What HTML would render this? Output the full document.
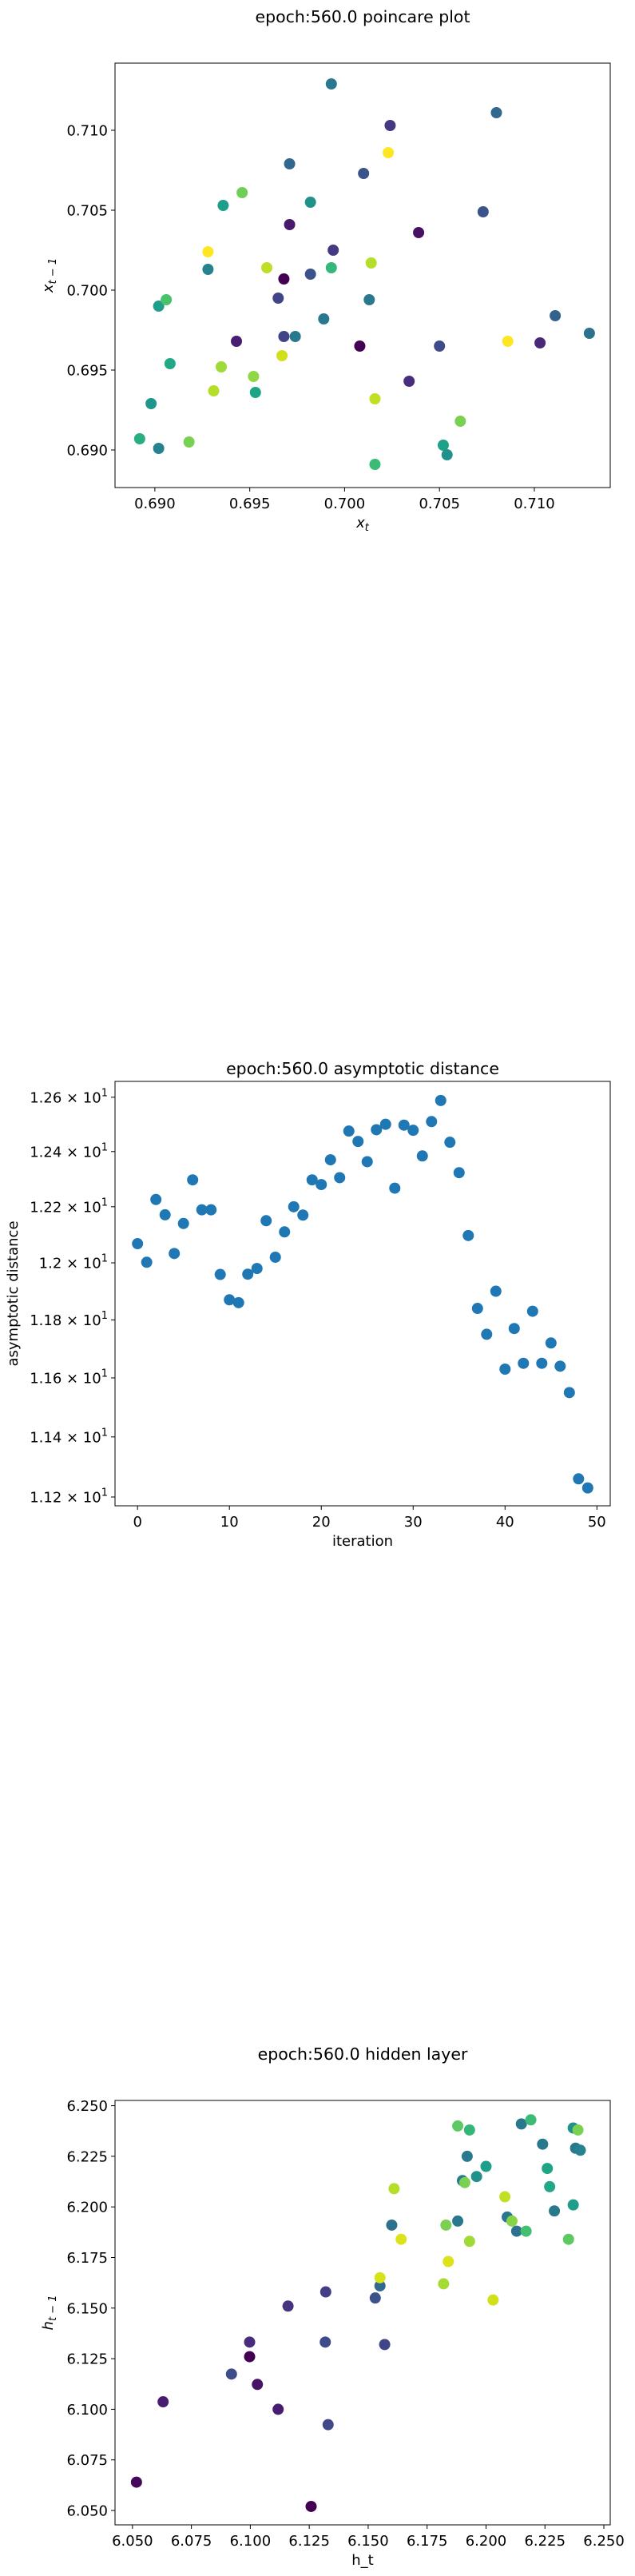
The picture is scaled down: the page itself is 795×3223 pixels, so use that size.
<!DOCTYPE html>
<html><head><meta charset="utf-8"><style>
html,body{margin:0;padding:0;background:#fff}
svg{display:block}
text{font-family:"DejaVu Sans","Liberation Sans",sans-serif;fill:#000}
</style></head><body>
<svg id="fig" xmlns="http://www.w3.org/2000/svg" width="795" height="3223" viewBox="0 0 795 3223"></svg>
<script>
// ---- Plot 1: poincare ----
const p1X = [0.6993,0.7080,0.7024,0.7023,0.6971,0.7010,0.6946,0.6936,0.6982,0.7073,0.6971,0.7039,0.6928,0.6994,0.6928,0.6959,0.6982,0.6993,0.7014,0.6968,0.6965,0.6902,0.6906,0.7013,0.6989,0.7111,0.7129,0.6968,0.6974,0.6967,0.7008,0.7050,0.7103,0.6943,0.7086,0.6908,0.6935,0.7034,0.6952,0.6931,0.6953,0.6898,0.7016,0.7061,0.6892,0.6918,0.6902,0.7052,0.7054,0.7016];
const p1Y = [0.7129,0.7111,0.7103,0.7086,0.7079,0.7073,0.7061,0.7053,0.7055,0.7049,0.7041,0.7036,0.7024,0.7025,0.7013,0.7014,0.7010,0.7014,0.7017,0.7007,0.6995,0.6990,0.6994,0.6994,0.6982,0.6984,0.6973,0.6971,0.6971,0.6959,0.6965,0.6965,0.6967,0.6968,0.6968,0.6954,0.6952,0.6943,0.6946,0.6937,0.6936,0.6929,0.6932,0.6918,0.6907,0.6905,0.6901,0.6903,0.6897,0.6891];
const p1C = ["#2a788e","#31688e","#443983","#fde725","#31688e","#3b528b","#6ece58","#1f9e89","#21918c","#3b528b","#481a6c","#471063","#fde725","#443983","#26828e","#bddf26","#3b528b","#35b779","#b5de2b","#440154","#414487","#1f9e89","#4ac16d","#2a788e","#2a788e","#33638d","#2c728e","#414487","#2a788e","#d0e11c","#440154","#3e4a89","#482878","#481f70","#fde725","#22a884","#a0da39","#472d7b","#8fd744","#b5de2b","#20a486","#1f968b","#c2df23","#7ad151","#29af7f","#7ad151","#26828e","#1fa187","#21918c","#3bbb75"];
const p1XTicks = [0.690,0.695,0.700,0.705,0.710];
const p1YTicks = [0.690,0.695,0.700,0.705,0.710];
// ---- Plot 2: asymptotic distance ----
const p2Y = [12.068,12.002,12.226,12.171,12.033,12.140,12.297,12.189,12.189,11.959,11.87,11.86,11.96,11.98,12.15,12.02,12.11,12.20,12.17,12.297,12.28,12.37,12.305,12.475,12.437,12.363,12.48,12.50,12.267,12.497,12.478,12.384,12.51,12.588,12.434,12.323,12.097,11.84,11.75,11.90,11.63,11.77,11.65,11.83,11.65,11.72,11.64,11.55,11.26,11.23];
const p2XTicks = [0,10,20,30,40,50];
const p2YTicks = [11.2,11.4,11.6,11.8,12.0,12.2,12.4,12.6];
const p2YTickLabels = ["1.12","1.14","1.16","1.18","1.2","1.22","1.24","1.26"];
// ---- Plot 3: hidden layer ----
const p3X = [6.0517,6.063,6.092,6.0997,6.0997,6.103,6.1118,6.1258,6.1318,6.133,6.157,6.116,6.132,6.153,6.155,6.155,6.160,6.161,6.164,6.182,6.183,6.184,6.188,6.188,6.190,6.191,6.192,6.193,6.193,6.196,6.200,6.203,6.208,6.209,6.211,6.213,6.215,6.217,6.219,6.224,6.226,6.227,6.229,6.235,6.237,6.237,6.238,6.239,6.240];
const p3Y = [6.064,6.1037,6.1174,6.1332,6.126,6.1123,6.100,6.052,6.1332,6.0924,6.132,6.151,6.158,6.155,6.161,6.165,6.191,6.209,6.184,6.162,6.191,6.173,6.240,6.193,6.213,6.212,6.225,6.238,6.183,6.215,6.220,6.154,6.205,6.195,6.193,6.188,6.241,6.188,6.243,6.231,6.219,6.210,6.198,6.184,6.239,6.201,6.229,6.238,6.228];
const p3C = ["#46085c","#481d6f","#3e4c8a","#472d7b","#440154","#471365","#481c6e","#440154","#3e4a89","#3f4889","#404588","#46337f","#433e85","#3b528b","#31688e","#d8e219","#2c728e","#b5de2b","#dde318","#a5db36","#7ad151","#dde318","#5ec962","#2a788e","#2a788e","#7ad151","#2a788e","#35b779","#a0da39","#21918c","#1f9e89","#d0e11c","#c2df23","#2a788e","#86d549","#2c728e","#2a788e","#44bf70","#3bbb75","#2a788e","#20a486","#22a884","#2a788e","#5ec962","#21918c","#1f9e89","#2a788e","#7ad151","#26828e"];
const p3XTicks = [6.050,6.075,6.100,6.125,6.150,6.175,6.200,6.225,6.250];
const p3YTicks = [6.050,6.075,6.100,6.125,6.150,6.175,6.200,6.225,6.250];

const NS = "http://www.w3.org/2000/svg";
const fig = document.getElementById('fig');
function mk(tag, attrs, parent, txt) {
  const e = document.createElementNS(NS, tag);
  for (const k in attrs) e.setAttribute(k, attrs[k]);
  if (txt !== undefined) e.textContent = txt;
  (parent || fig).appendChild(e);
  return e;
}
const L = 144, R = 764, H = 531, R_MK = 7;
function linScale(d0, d1, r0, r1) { return v => r0 + (v - d0) / (d1 - d0) * (r1 - r0); }
function logScale(d0, d1, r0, r1) { return v => r0 + (Math.log10(v) - Math.log10(d0)) / (Math.log10(d1) - Math.log10(d0)) * (r1 - r0); }

function frame(g, top) {
  const f = mk('rect', {x: L, y: top, width: R - L, height: H, fill: 'none', stroke: '#000', 'stroke-width': 1}, g);
  
  
}
function xTicks(g, top, ticks, sx, fmt) {
  const b = top + H;
  ticks.forEach(t => {
    const x = sx(t);
    const tk = mk('line', {x1: x, x2: x, y1: b, y2: b + 5, stroke: '#000', 'stroke-width': 1}, g);
    
    
    const lb = mk('text', {x: x, y: b + 26, 'font-size': 18, 'text-anchor': 'middle'}, g, fmt(t));
    
    
  });
}
function yTicks(g, ticks, sy, fmt) {
  ticks.forEach((t, i) => {
    const y = sy(t);
    const tk = mk('line', {x1: L - 5, x2: L, y1: y, y2: y, stroke: '#000', 'stroke-width': 1}, g);
    
    
    const lb = mk('text', {x: L - 9, y: y + 6.5, 'font-size': 18, 'text-anchor': 'end'}, g, fmt(t, i));
    
    
  });
}
function title(g, y, txt) {
  const t = mk('text', {x: (L + R) / 2, y: y, 'font-size': 20.5, 'text-anchor': 'middle'}, g, txt);
  
  
}

// Plot 1
{
  const top = 79;
  const g = mk('g', {});
  
  
  const sx = linScale(0.6879, 0.7140, L, R);
  const sy = linScale(0.68765, 0.7142, top + H, top);
  title(g, 28, 'epoch:560.0 poincare plot');
  p1X.forEach((v, i) => {
    const c = mk('circle', {cx: sx(v), cy: sy(p1Y[i]), r: R_MK, fill: p1C[i]}, g);
    
    
  });
  frame(g, top);
  xTicks(g, top, p1XTicks, sx, v => v.toFixed(3));
  yTicks(g, p1YTicks, sy, v => v.toFixed(3));
  const xl = mk('text', {x: (L + R) / 2, y: top + H + 50, 'font-size': 18, 'text-anchor': 'middle', 'font-style': 'italic'}, g);
  
  
  mk('tspan', {}, xl, 'x');
  mk('tspan', {'font-size': 13, dy: 4}, xl, 't');
  const yl = mk('text', {x: 0, y: 0, 'font-size': 18, 'text-anchor': 'middle', 'font-style': 'italic', transform: `translate(66 ${top + H / 2}) rotate(-90)`}, g);
  
  
  mk('tspan', {}, yl, 'x');
  mk('tspan', {'font-size': 13, dy: 4}, yl, 't − 1');
}
// Plot 2
{
  const top = 1353;
  const g = mk('g', {});
  
  
  const sx = linScale(-2.45, 51.45, L, R);
  const sy = logScale(11.171, 12.659, top + H, top);
  title(g, top - 9, 'epoch:560.0 asymptotic distance');
  p2Y.forEach((v, i) => {
    const c = mk('circle', {cx: sx(i), cy: sy(v), r: R_MK, fill: '#1f77b4'}, g);
    
    
  });
  frame(g, top);
  xTicks(g, top, p2XTicks, sx, v => String(v));
  p2YTicks.forEach((t, i) => {
    const y = sy(t);
    const tk = mk('line', {x1: L - 5, x2: L, y1: y, y2: y, stroke: '#000', 'stroke-width': 1}, g);
    
    
    const lb = mk('text', {x: L - 9, y: y + 6.5, 'font-size': 18, 'text-anchor': 'end'}, g);
    
    
    mk('tspan', {}, lb, p2YTickLabels[i] + ' × 10');
    mk('tspan', {'font-size': 13, dy: -8}, lb, '1');
  });
  const xl = mk('text', {x: (L + R) / 2, y: top + H + 50, 'font-size': 18, 'text-anchor': 'middle'}, g, 'iteration');
  
  
  const yl = mk('text', {x: 0, y: 0, 'font-size': 18, 'text-anchor': 'middle', transform: `translate(22 ${top + H / 2}) rotate(-90)`}, g, 'asymptotic distance');
  
  
}
// Plot 3
{
  const top = 2628;
  const g = mk('g', {});
  
  
  const sx = linScale(6.0426, 6.2527, L, R);
  const sy = linScale(6.0429, 6.2526, top + H, top);
  title(g, top - 51, 'epoch:560.0 hidden layer');
  p3X.forEach((v, i) => {
    const c = mk('circle', {cx: sx(v), cy: sy(p3Y[i]), r: R_MK, fill: p3C[i]}, g);
    
    
  });
  frame(g, top);
  xTicks(g, top, p3XTicks, sx, v => v.toFixed(3));
  yTicks(g, p3YTicks, sy, v => v.toFixed(3));
  const xl = mk('text', {x: (L + R) / 2, y: top + H + 50, 'font-size': 18, 'text-anchor': 'middle'}, g, 'h_t');
  
  
  const yl = mk('text', {x: 0, y: 0, 'font-size': 18, 'text-anchor': 'middle', 'font-style': 'italic', transform: `translate(66 ${top + H / 2}) rotate(-90)`}, g);
  
  
  mk('tspan', {}, yl, 'h');
  mk('tspan', {'font-size': 13, dy: 4}, yl, 't − 1');
}
</script>
</body></html>
